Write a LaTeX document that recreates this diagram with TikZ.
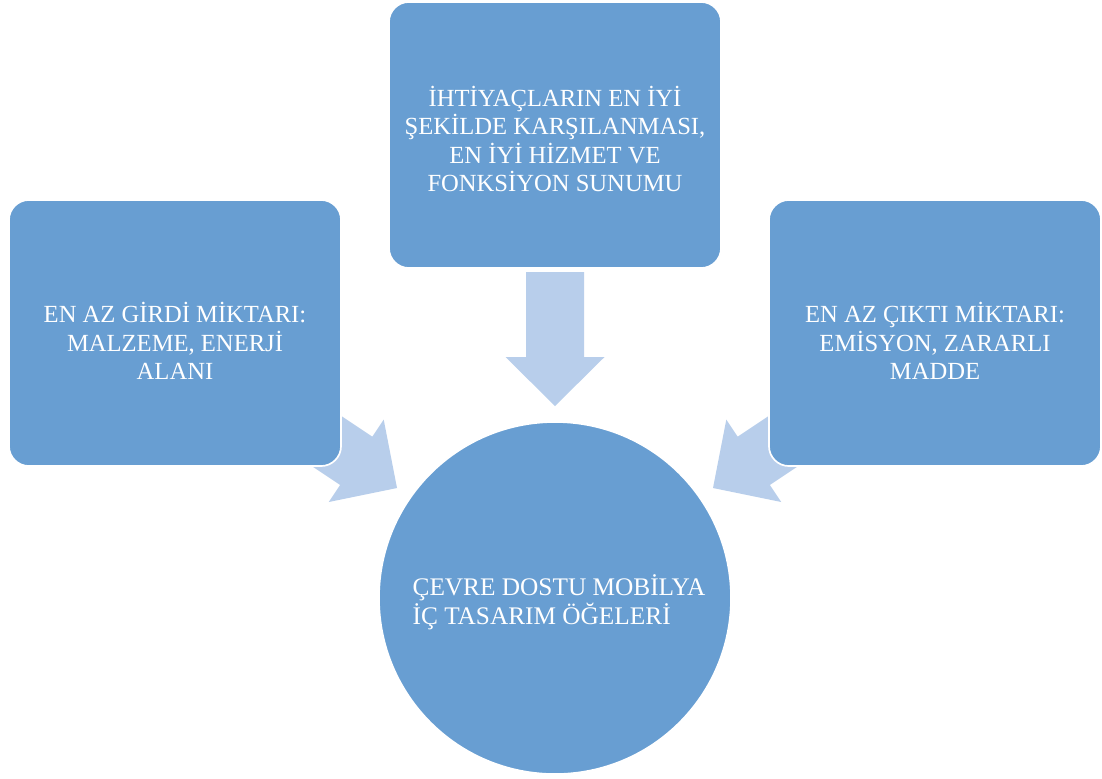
\documentclass[tikz,border=0pt]{standalone}
\usepackage{fontspec}
\setmainfont{Liberation Serif}
\definecolor{boxblue}{RGB}{104,158,210}
\definecolor{arrowblue}{RGB}{184,206,235}
\begin{document}
\begin{tikzpicture}[x=0.025cm,y=-0.025cm,
  txt/.style={text=white,font=\fontsize{17.5}{20.3}\selectfont,align=center,inner sep=0pt},
  bluebox/.style={fill=boxblue,draw=white,line width=1.2pt,rounded corners=0.5cm,
    minimum width=8.3cm,minimum height=6.65cm},
  bluecircle/.style={circle,fill=boxblue,draw=white,line width=1.2pt,minimum size=8.8cm},
  arrowfill/.style={fill=arrowblue}]
\useasboundingbox (0,0) rectangle (1102,778);
\fill[white] (0,0) rectangle (1102,778);
% block arrows (behind the boxes)
\coordinate (tipL) at (397,488);
\coordinate (tipT) at (555,406);
\coordinate (tipR) at (713,488);
\fill[arrowfill,shift={(tipT)}] (0,0) -- (49.5,-49) -- (29,-49) -- (29,-134) -- (-29,-134) -- (-29,-49) -- (-49.5,-49) -- cycle;
\fill[arrowfill,shift={(tipL)},rotate=56.3] (0,0) -- (49.5,-49) -- (29,-49) -- (29,-115) -- (-29,-115) -- (-29,-49) -- (-49.5,-49) -- cycle;
\fill[arrowfill,shift={(tipR)},rotate=-56.3] (0,0) -- (49.5,-49) -- (29,-49) -- (29,-115) -- (-29,-115) -- (-29,-49) -- (-49.5,-49) -- cycle;
% boxes
\node[bluebox] (left) at (175,333) {};
\node[bluebox] (top) at (555,135) {};
\node[bluebox] (right) at (935,333) {};
\node[bluecircle] (center) at (555,598) {};
% texts
\node[txt] (lefttext) at (175,341) {EN AZ GİRDİ MİKTARI:\\MALZEME, ENERJİ\\ALANI};
\node[txt] (toptext) at (555,139) {İHTİYAÇLARIN EN İYİ\\ŞEKİLDE KARŞILANMASI,\\EN İYİ HİZMET VE\\FONKSİYON SUNUMU};
\node[txt] (righttext) at (935,341) {EN AZ ÇIKTI MİKTARI:\\EMİSYON, ZARARLI\\MADDE};
\node[txt,align=left,font=\fontsize{18}{20.6}\selectfont] (centertext) at (559,602) {ÇEVRE DOSTU MOBİLYA\\İÇ TASARIM ÖĞELERİ};
\end{tikzpicture}
\end{document}
